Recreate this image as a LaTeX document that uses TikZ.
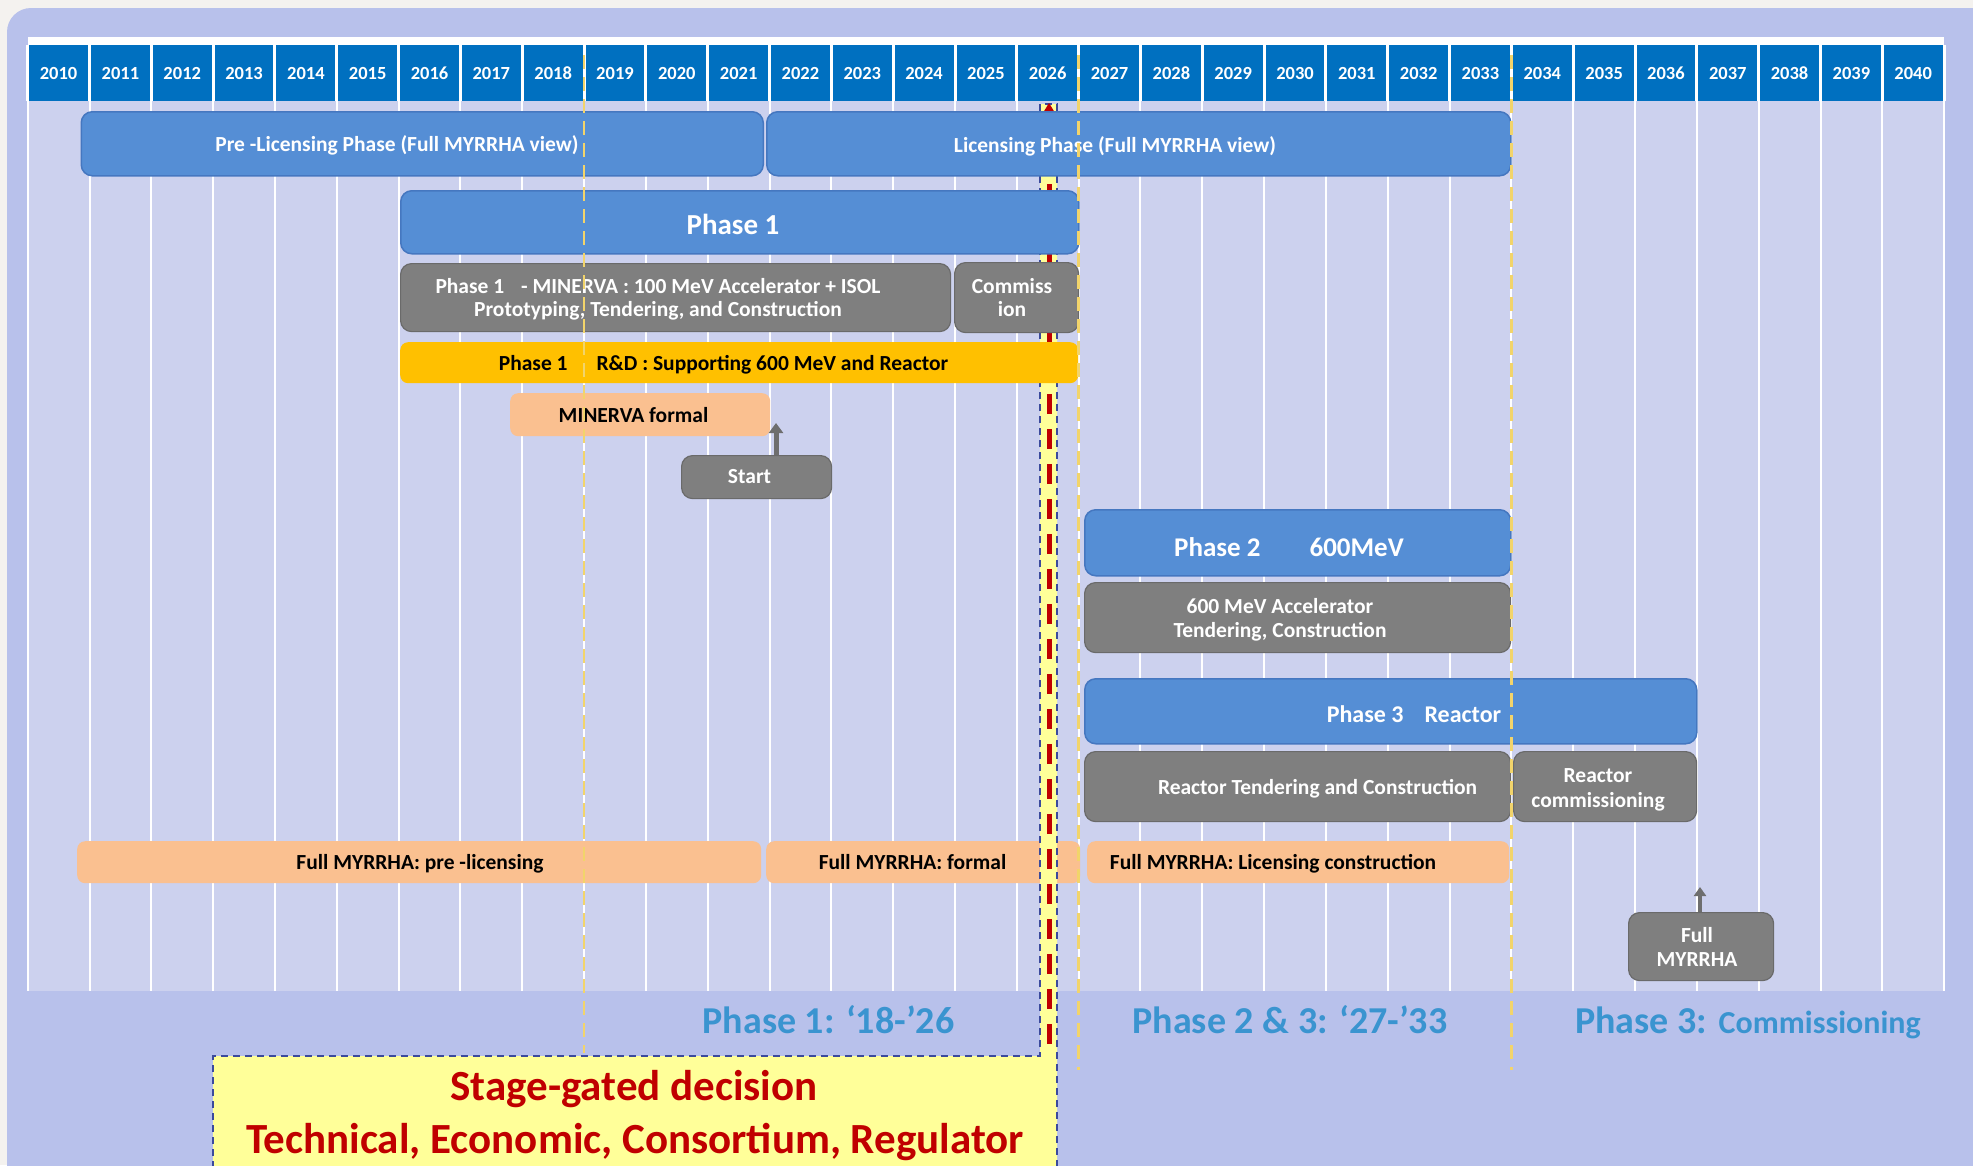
\documentclass[tikz,border=0pt]{standalone}
\usepackage{fontspec}
\setmainfont{Carlito}
\usetikzlibrary{arrows.meta}
\definecolor{bgw}{HTML}{F4F2EF}
\definecolor{lav}{HTML}{B8C1EB}
\definecolor{gridf}{HTML}{CCD1EE}
\definecolor{hdr}{HTML}{0070C0}
\definecolor{barblue}{HTML}{558ED5}
\definecolor{bluedk}{HTML}{4577C0}
\definecolor{greyf}{HTML}{7F7F7F}
\definecolor{greydk}{HTML}{6A6A6A}
\definecolor{peach}{HTML}{FAC090}
\definecolor{amber}{HTML}{FFC000}
\definecolor{ltyel}{HTML}{FFFF99}
\definecolor{dashblue}{HTML}{3B4A9C}
\definecolor{redl}{HTML}{C00000}
\definecolor{phblue}{HTML}{3A94D0}
\definecolor{yelline}{HTML}{F2D46B}
\definecolor{arrgrey}{HTML}{6E6E6E}
\begin{document}
\begin{tikzpicture}[x=1pt,y=-1pt,
  bluebar/.style={draw=bluedk,line width=1.5pt,fill=barblue,rounded corners=11pt,anchor=north west,inner sep=0pt},
  greybar/.style={draw=greydk,line width=1.2pt,fill=greyf,rounded corners=11pt,anchor=north west,inner sep=0pt},
  peachbar/.style={fill=peach,rounded corners=8pt,anchor=north west,inner sep=0pt},
  amberbar/.style={fill=amber,rounded corners=8pt,anchor=north west,inner sep=0pt},
  wtxt/.style={text=white,font=\bfseries\fontsize{21.5}{23}\selectfont,inner sep=0pt,anchor=base,align=center},
  ktxt/.style={text=black,font=\bfseries\fontsize{21.5}{23}\selectfont,inner sep=0pt,anchor=base,align=center},
  yrtxt/.style={text=white,font=\bfseries\fontsize{18.5}{20}\selectfont,inner sep=0pt,anchor=base},
  phtxt/.style={text=phblue,font=\bfseries\fontsize{38}{40}\selectfont,inner sep=0pt,anchor=base},
  rtxt/.style={text=redl,font=\bfseries\fontsize{43}{45}\selectfont,inner sep=0pt,anchor=base},
  yline/.style={draw=yelline,line width=2.6pt,dash pattern=on 14pt off 8pt},
  garrow/.style={draw=arrgrey,line width=5pt,-{Triangle[width=14pt,length=10pt]}},
  gate/.style={fill=ltyel,draw=dashblue,line width=1.8pt,dash pattern=on 7pt off 5pt},
  redline/.style={draw=redl,line width=5pt,dash pattern=on 20pt off 15pt}
]
\useasboundingbox (0,0) rectangle (1973,1165);
% background
\fill[bgw] (0,0) rectangle (1973,1165);
\fill[lav,rounded corners=24pt] (7,8) rectangle (2010,1200);
\fill[gridf] (27.7,101) rectangle (1944.1,991);
\fill[white] (27.7,37) rectangle (1944.1,45);
\fill[hdr] (27.7,45) rectangle (1944.1,101);
% grid lines
\foreach \i in {0,...,31} {
  \draw[white,line width=2pt] ({27.7+61.82*\i},101) -- ({27.7+61.82*\i},991);
  \draw[white,line width=3pt] ({27.7+61.82*\i},45) -- ({27.7+61.82*\i},101);
}
% years
\foreach \i in {0,...,30} {
  \pgfmathtruncatemacro\yr{2010+\i}
  \node[yrtxt] (yr\i) at ({27.7+61.82*(\i+0.5)},79.7) {\yr};
}
% bar under the gate strip
\node[peachbar,minimum width=314pt,minimum height=42pt] (fform) at (766,841) {};
% stage gate strip and box
\path[gate] (213,1180) -- (213,1056) -- (1040,1056) -- (1040,104) -- (1057,104) -- (1057,1180) -- cycle;
\draw[redline] (1049,114) -- (1049,1048);
\fill[redl] (1049,103) -- (1054.5,112) -- (1043.5,112) -- cycle;
% bars
\node[bluebar,minimum width=682pt,minimum height=64pt] (prelic) at (80.5,111) {};
\node[bluebar,minimum width=744pt,minimum height=64pt] (lic) at (766,111) {};
\node[bluebar,minimum width=678pt,minimum height=63pt] (ph1) at (400,190) {};
\node[greybar,minimum width=550pt,minimum height=68pt] (minerva) at (400,263) {};
\node[greybar,minimum width=124pt,minimum height=70pt] (commis) at (954,262) {};
\node[amberbar,minimum width=678pt,minimum height=41pt] (rd) at (400,342) {};
\node[peachbar,minimum width=260pt,minimum height=43pt] (minf) at (510,393) {};
\node[greybar,minimum width=150pt,minimum height=43pt] (start) at (681,455) {};
\node[bluebar,minimum width=426pt,minimum height=66pt] (ph2) at (1084,509) {};
\node[greybar,minimum width=426pt,minimum height=70pt] (acc) at (1084,582) {};
\node[bluebar,minimum width=612pt,minimum height=65pt] (ph3) at (1084,678) {};
\node[greybar,minimum width=426pt,minimum height=70pt] (rtend) at (1084,751) {};
\node[greybar,minimum width=183pt,minimum height=70pt] (rcomm) at (1513,751) {};
\node[peachbar,minimum width=684pt,minimum height=42pt] (fprel) at (77,841) {};
\node[peachbar,minimum width=422pt,minimum height=42pt] (flic) at (1087,841) {};
\node[greybar,minimum width=145pt,minimum height=68pt] (fullm) at (1628,912) {};
% texts
\node[wtxt] (prelicT) at (397,151.7) {Pre -Licensing Phase (Full MYRRHA view)};
\node[wtxt] (licT) at (1115,152.5) {Licensing Phase (Full MYRRHA view)};
\node[wtxt,font=\bfseries\fontsize{29}{31}\selectfont] (ph1T) at (733,234) {Phase 1};
\node[wtxt] (minT) at (658,316.7) {Phase 1\hspace{12pt} - MINERVA : 100 MeV Accelerator + ISOL\\Prototyping, Tendering, and Construction};
\node[wtxt] (commT) at (1012,316.7) {Commiss\\ion};
\node[ktxt] (rdT) at (723.5,370.7) {Phase 1\hspace{29pt}R\&D : Supporting 600 MeV and Reactor};
\node[ktxt] (minfT) at (633.5,422.7) {MINERVA formal};
\node[wtxt] (startT) at (749.5,483.7) {Start};
\node[wtxt,font=\bfseries\fontsize{27}{29}\selectfont] (ph2T) at (1289,556.4) {Phase 2\hspace{49pt}600MeV};
\node[wtxt,font=\bfseries\fontsize{21.5}{24}\selectfont] (accT) at (1280,637.7) {600 MeV Accelerator\\Tendering, Construction};
\node[wtxt,font=\bfseries\fontsize{24}{26}\selectfont] (ph3T) at (1414,722.4) {Phase 3\hspace{21pt}Reactor};
\node[wtxt] (rtendT) at (1317.6,794.7) {Reactor Tendering and Construction};
\node[wtxt,font=\bfseries\fontsize{21.5}{25}\selectfont] (rcommT) at (1598,807.7) {Reactor\\commissioning};
\node[ktxt] (fprelT) at (420,869.7) {Full MYRRHA: pre -licensing};
\node[ktxt] (fformT) at (912.5,869.7) {Full MYRRHA: formal};
\node[ktxt] (flicT) at (1273,869.7) {Full MYRRHA: Licensing construction};
\node[wtxt,font=\bfseries\fontsize{21.5}{24}\selectfont] (fullmT) at (1697,966.7) {Full\\MYRRHA};
% yellow dashed gate lines
\draw[yline] ({27.7+61.82*9},55) -- ({27.7+61.82*9},1053);
\draw[yline] ({27.7+61.82*17},55) -- ({27.7+61.82*17},1070);
\draw[yline] ({27.7+61.82*24},55) -- ({27.7+61.82*24},1070);
% arrows
\coordinate (a1) at (776,423);
\draw[garrow] (start.north -| a1) -- (a1);
\coordinate (a2) at (1700,887);
\draw[garrow,line width=4pt,-{Triangle[width=12pt,length=9pt]}] (fullm.north -| a2) -- (a2);
% bottom labels
\node[phtxt] (p1L) at (828.5,1033.8) {Phase 1: ‘18-’26};
\node[phtxt] (p23L) at (1290,1033.8) {Phase 2 \& 3: ‘27-’33};
\node[phtxt] (p3L) at (1748,1033.8) {Phase 3: {\fontsize{32}{34}\selectfont Commissioning}};
\node[rtxt] (stageT) at (634,1100.3) {Stage-gated decision};
\node[rtxt] (techT) at (635,1153.3) {Technical, Economic, Consortium, Regulator};
\end{tikzpicture}
\end{document}
